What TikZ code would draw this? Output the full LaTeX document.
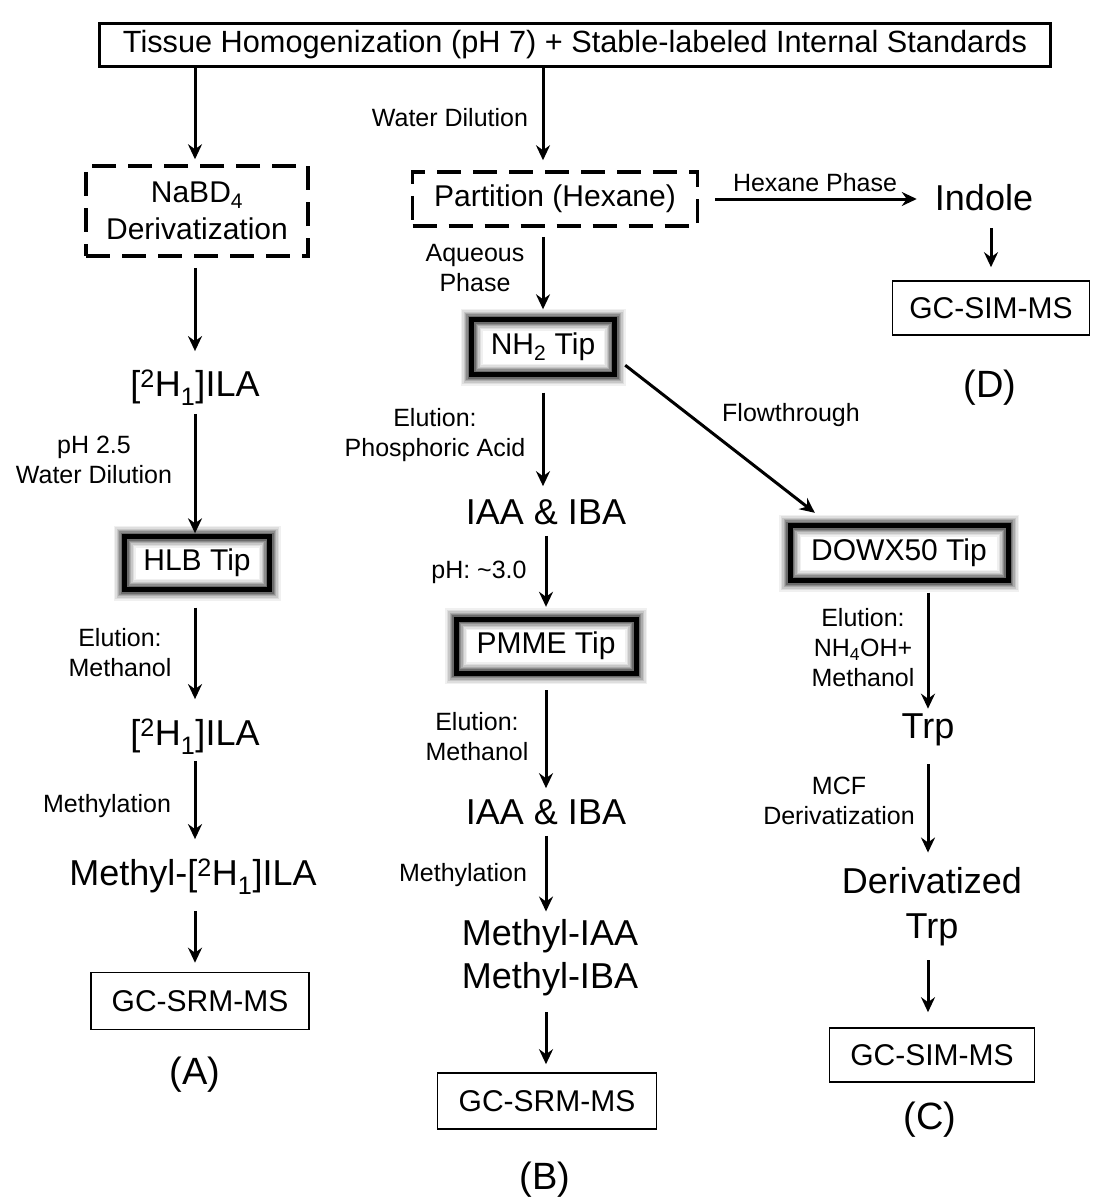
\documentclass[tikz,border=0pt]{standalone}
\usepackage{fontspec}
\setmainfont{Liberation Sans}
\usetikzlibrary{arrows.meta,calc}
\begin{document}
\begin{tikzpicture}[x=1pt,y=-1pt,
  arr/.style={line width=3pt,-{Stealth[length=15pt,width=14pt,inset=5pt]}},
  lab/.style={font=\fontsize{25}{30}\selectfont,align=center,inner sep=0pt},
  big/.style={font=\fontsize{36}{43}\selectfont,align=center,inner sep=0pt},
  paren/.style={font=\fontsize{38}{44}\selectfont,inner sep=0pt},
  plainbox/.style={draw,line width=1.6pt,font=\fontsize{30}{36}\selectfont,inner sep=0pt},
  dashbox/.style={draw,line width=3.5pt,dash pattern=on 24pt off 12pt,font=\fontsize{30}{37}\selectfont,align=center,inner sep=0pt},
  tipbox/.style={fill=white,inner sep=0pt,font=\fontsize{30}{36}\selectfont,
    postaction={draw=black!6,line width=22pt},
    postaction={draw=black!13,line width=19pt},
    postaction={draw=black!22,line width=16pt},
    postaction={draw=black!33,line width=13pt},
    postaction={draw=black!45,line width=10.5pt},
    postaction={draw=black!58,line width=8pt},
    postaction={draw=black,line width=5pt}},
]
\useasboundingbox (0,0) rectangle (1095,1201);

% title
\node[draw,line width=3pt,minimum width=951pt,minimum height=43pt,inner sep=0pt,font=\fontsize{30.7}{36}\selectfont] (title) at (575,45) {Tissue Homogenization (pH 7) + Stable-labeled Internal Standards};

% column A
\node[dashbox,minimum width=222pt,minimum height=90pt] (nabd) at (197,211) {NaBD\textsubscript{4}\\Derivatization};
\node[big] (ila1) at (195,388) {[\textsuperscript{2}H\textsubscript{1}]ILA};
\node[tipbox,minimum width=145pt,minimum height=53pt] (hlb) at (197,563) {HLB Tip};
\node[big] (ila2) at (195,737) {[\textsuperscript{2}H\textsubscript{1}]ILA};
\node[big] (mila) at (193,877) {Methyl-[\textsuperscript{2}H\textsubscript{1}]ILA};
\node[plainbox,minimum width=218pt,minimum height=57pt] (gca) at (200,1001) {GC-SRM-MS};
\node[paren] (la) at (195,1075) {(A)};
\node[lab] (l1) at (94,460) {pH 2.5\\Water Dilution};
\node[lab] (l2) at (120,653) {Elution:\\Methanol};
\node[lab] (l3) at (107,806) {Methylation};

\draw[arr,shorten >=5pt] (title.south -| ila1) -- (nabd.north -| ila1);
\draw[arr,shorten <=10pt,shorten >=19pt] (nabd.south -| ila1) -- (ila1.north);
\draw[arr,shorten <=8pt,shorten >=3pt] (ila1.south) -- (hlb.north -| ila1);
\draw[arr,shorten <=18pt,shorten >=20pt] (hlb.south -| ila2) -- (ila2.north);
\draw[arr,shorten <=6pt,shorten >=20pt] (ila2.south) -- (mila.north -| ila2);
\draw[arr,shorten <=16pt,shorten >=9pt] (mila.south -| ila2) -- (gca.north -| ila2);

% column B
\node[lab] (wd) at (450,118) {Water Dilution};
\node[dashbox,minimum width=285pt,minimum height=54pt] (part) at (555,199) {Partition (Hexane)};
\node[lab] (aq) at (475,268) {Aqueous\\Phase};
\node[tipbox,minimum width=143pt,minimum height=55pt] (nh2) at (543,347) {NH\textsubscript{2} Tip};
\node[lab] (el1) at (435,435) {Elution:\\Phosphoric Acid};
\node[big] (iaa1) at (546,512) {IAA \& IBA};
\node[lab] (ph3) at (479,572) {pH: \textasciitilde3.0};
\node[tipbox,minimum width=180pt,minimum height=54pt] (pmme) at (546,646) {PMME Tip};
\node[lab] (el2) at (477,737) {Elution:\\Methanol};
\node[big] (iaa2) at (546,812) {IAA \& IBA};
\node[lab] (me2) at (463,875) {Methylation};
\node[big] (miaa) at (550,958) {Methyl-IAA\\Methyl-IBA};
\node[plainbox,minimum width=219pt,minimum height=56pt] (gcb) at (547,1101) {GC-SRM-MS};
\node[paren] (lb) at (545,1180) {(B)};

\draw[arr,shorten >=10pt] (title.south -| nh2) -- (part.north -| nh2);
\draw[arr,shorten <=9pt,shorten >=10pt] (part.south -| nh2) -- (nh2.north);
\draw[arr,shorten <=18pt,shorten >=13pt] (nh2.south) -- (iaa1.north -| nh2);
\draw[arr,shorten <=11pt,shorten >=12pt] (iaa1.south) -- (pmme.north -| iaa1);
\draw[arr,shorten <=17pt,shorten >=11pt] (pmme.south -| iaa2) -- (iaa2.north);
\draw[arr,shorten <=11pt,shorten >=8pt] (iaa2.south) -- (miaa.north -| iaa2);
\draw[arr,shorten <=16pt,shorten >=8pt] (miaa.south -| iaa2) -- (gcb.north -| iaa2);

% column D
\node[lab] (hp) at (815,183) {Hexane Phase};
\node[big] (indole) at (984,198) {Indole};
\node[plainbox,minimum width=197pt,minimum height=54pt] (gcd) at (991,308) {GC-SIM-MS};
\node[paren] (ld) at (990,388) {(D)};
\draw[arr,shorten <=16pt,shorten >=18pt] (part.east) -- (indole.west |- part.east);
\draw[arr,shorten <=17pt,shorten >=13pt] (indole.south -| gcd) -- (gcd.north);

% column C
\node[tipbox,minimum width=218pt,minimum height=55pt] (dowx) at (899,553) {DOWX50 Tip};
\node[lab] (ft) at (791,415) {Flowthrough};
\draw[arr] ([shift={(10.5pt,9.5pt)}]nh2.south east) -- ([shift={(25pt,12.5pt)}]dowx.north west);
\node[lab] (el3) at (863,648) {Elution:\\NH\textsubscript{4}OH+\\Methanol};
\node[big] (trp) at (928,730) {Trp};
\node[lab] (mcf) at (839,801) {MCF\\Derivatization};
\node[big,font=\fontsize{36}{45}\selectfont] (dtrp) at (932,907) {Derivatized\\Trp};
\node[plainbox,minimum width=205pt,minimum height=54pt] (gcc) at (932,1055) {GC-SIM-MS};
\node[paren] (lc) at (930,1120) {(C)};

\draw[arr,shorten <=12pt,shorten >=5pt] (dowx.south -| trp) -- (trp.north);
\draw[arr,shorten <=18pt,shorten >=15pt] (trp.south) -- (dtrp.north -| trp);
\draw[arr,shorten <=14pt,shorten >=15pt] (dtrp.south -| trp) -- (gcc.north -| trp);
\end{tikzpicture}
\end{document}
